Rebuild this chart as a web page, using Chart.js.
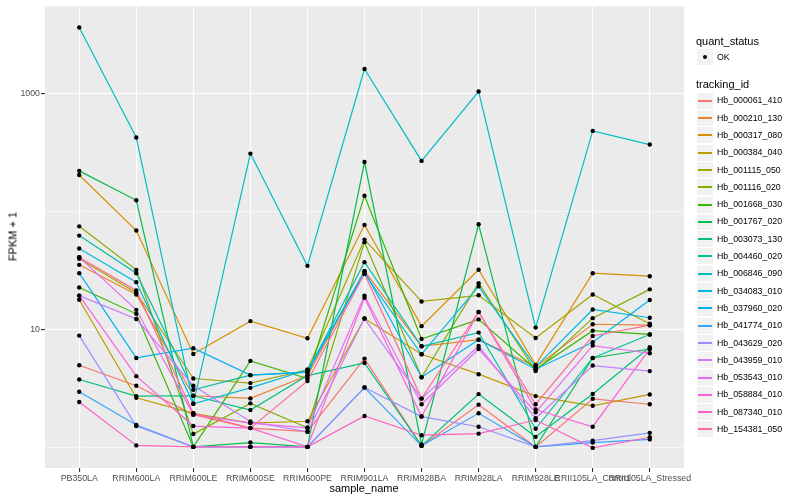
<!DOCTYPE html>
<html>
<head>
<meta charset="utf-8">
<script src="https://cdn.jsdelivr.net/npm/chart.js@4.4.0/dist/chart.umd.min.js"></script>
<style>
  body { margin: 0; background: #fff; font-family: "Liberation Sans", Arial, sans-serif; }
  #wrap { position: relative; width: 800px; height: 500px; }
  .txt { position: absolute; white-space: nowrap; color: #000; line-height: 1; }
  .key { position: absolute; width: 16px; height: 16px; background: #F2F2F2; }
  .key i { position: absolute; left: 1px; right: 1px; top: 7px; height: 1.5px; }
  .key b { position: absolute; left: 6px; top: 6px; width: 4px; height: 4px; border-radius: 2px; background: #000; }
</style>
</head>
<body>
<div id="wrap">
  <canvas id="chart" width="800" height="500"></canvas>
  <div class="txt" style="left:-37px;top:231px;width:100px;text-align:center;font-size:11px;transform:rotate(-90deg);transform-origin:50% 50%;">FPKM + 1</div>
  <div class="txt" style="left:364px;top:483px;font-size:11px;transform:translateX(-50%);">sample_name</div>
  <div id="legend"></div>
</div>
<script>
// samples on the x axis
const categories = ['PB350LA', 'RRIM600LA', 'RRIM600LE', 'RRIM600SE', 'RRIM600PE', 'RRIM901LA',
  'RRIM928BA', 'RRIM928LA', 'RRIM928LE', 'RRII105LA_Control', 'RRII105LA_Stressed'];

const trackingIds = ['Hb_000061_410', 'Hb_000210_130', 'Hb_000317_080', 'Hb_000384_040', 'Hb_001115_050',
  'Hb_001116_020', 'Hb_001668_030', 'Hb_001767_020', 'Hb_003073_130', 'Hb_004460_020', 'Hb_006846_090',
  'Hb_034083_010', 'Hb_037960_020', 'Hb_041774_010', 'Hb_043629_020', 'Hb_043959_010', 'Hb_053543_010',
  'Hb_058884_010', 'Hb_087340_010', 'Hb_154381_050'];

// FPKM + 1 per gene, one value per sample
const hb_000061_410 = [5.0, 3.35, 1.91, 1.47, 1.37, 5.69, 1.04, 2.32, 1.02, 2.6, 2.34];
const hb_000210_130 = [35.3, 19.8, 2.76, 2.62, 4.09, 31.2, 7.23, 8.23, 4.84, 11.1, 10.9];
const hb_000317_080 = [203, 68.8, 6.23, 11.8, 8.45, 76.8, 10.7, 32.1, 5.03, 30, 28.3];
const hb_000384_040 = [17.9, 2.65, 1.96, 1.62, 1.68, 12.4, 6.19, 4.2, 2.74, 2.27, 2.83];
const hb_001115_050 = [39.7, 20.5, 3.86, 3.53, 4.58, 57.7, 17.3, 19.5, 8.5, 19.8, 11.2];
const hb_001116_020 = [74.7, 32.0, 1.31, 2.38, 1.48, 54.9, 3.96, 24.7, 4.46, 12.5, 21.9];
const hb_001668_030 = [22.7, 13.6, 1.02, 5.44, 3.86, 135.6, 8.33, 12.2, 4.63, 9.8, 9.1];
const hb_001767_020 = [220, 124, 1.02, 1.11, 1.02, 262, 1.07, 77.7, 1.02, 5.76, 6.86];
const hb_003073_130 = [3.79, 2.74, 2.76, 2.09, 4.09, 5.23, 1.04, 2.85, 1.24, 2.86, 7.1];
const hb_004460_020 = [62.4, 30, 3.1, 4.12, 4.37, 37.2, 7.23, 9.44, 1.45, 5.76, 9.1];
const hb_006846_090 = [3590, 421, 2.36, 308, 34.6, 1597, 267, 1030, 10.4, 479, 367];
const hb_034083_010 = [48.5, 25.2, 2.36, 3.22, 4.58, 29.7, 6.19, 23.2, 4.84, 14.8, 12.6];
const hb_037960_020 = [30, 5.76, 6.96, 4.12, 4.37, 31.2, 3.96, 8.23, 4.63, 7.82, 17.8];
const hb_041774_010 = [2.98, 1.56, 1.02, 1.02, 1.02, 3.24, 1.04, 1.96, 1.02, 1.11, 1.18];
const hb_043629_020 = [8.9, 1.53, 1.02, 1.02, 1.02, 3.24, 1.84, 1.51, 1.02, 1.15, 1.34];
const hb_043959_010 = [19.4, 12.3, 3.35, 1.67, 1.37, 12.4, 2.61, 7.27, 1.78, 4.97, 4.46];
const hb_053543_010 = [41, 14.7, 1.91, 1.62, 1.48, 19.4, 2.34, 6.86, 2.0, 7.33, 6.31];
const hb_058884_010 = [19.4, 4.04, 1.53, 1.47, 1.02, 18.6, 1.84, 14.1, 2.11, 1.51, 6.86];
const hb_087340_010 = [2.44, 1.05, 1.02, 1.02, 1.02, 1.86, 1.28, 1.32, 1.72, 1.0, 1.23];
const hb_154381_050 = [41, 21.4, 1.96, 1.47, 3.68, 29.7, 2.61, 14.1, 2.34, 8.83, 10.9];

const seriesValues = [hb_000061_410, hb_000210_130, hb_000317_080, hb_000384_040, hb_001115_050,
  hb_001116_020, hb_001668_030, hb_001767_020, hb_003073_130, hb_004460_020, hb_006846_090,
  hb_034083_010, hb_037960_020, hb_041774_010, hb_043629_020, hb_043959_010, hb_053543_010,
  hb_058884_010, hb_087340_010, hb_154381_050];

// y grid lines and which of them get a label
const yGrid = [1, 10, 100, 1000];
const yLabels = [10, 1000];

// ggplot default hue palette, 20 colours
const palette = ['#F8766D', '#EA8331', '#D89000', '#C09B00', '#A3A500', '#7CAE00', '#39B600', '#00BB4E',
  '#00BF7D', '#00C1A3', '#00BFC4', '#00BAE0', '#00B0F6', '#35A2FF', '#9590FF', '#C77CFF', '#E76BF3',
  '#FA62DB', '#FF62BC', '#FF6C91'];

const fontFamily = '"Liberation Sans", Arial, sans-serif';

const datasets = trackingIds.map((id, i) => ({
  label: id,
  data: seriesValues[i].map((v, j) => ({ x: j, y: v })),
  borderColor: palette[i],
  borderWidth: 1.2,
  pointRadius: 0,
  fill: false,
  tension: 0,
  order: trackingIds.length - i
}));

// all points on top of all lines
datasets.push({
  label: 'OK',
  type: 'scatter',
  data: seriesValues.flatMap(vals => vals.map((v, j) => ({ x: j, y: v }))),
  pointRadius: 2.2,
  pointBackgroundColor: '#000',
  pointBorderWidth: 0,
  showLine: false,
  order: -1
});

const panelBg = {
  id: 'panelBg',
  beforeDraw(chart) {
    const { ctx, chartArea: a } = chart;
    ctx.save();
    ctx.fillStyle = '#EBEBEB';
    ctx.fillRect(a.left, a.top, a.right - a.left, a.bottom - a.top);
    ctx.restore();
  }
};

new Chart(document.getElementById('chart'), {
  type: 'line',
  data: { datasets: datasets },
  plugins: [panelBg],
  options: {
    responsive: false,
    animation: false,
    layout: { padding: { top: 5, right: 116, left: 0, bottom: 0 } },
    plugins: { legend: { display: false }, tooltip: { enabled: false } },
    scales: {
      x: {
        type: 'linear',
        min: -0.6,
        max: 10.6,
        afterBuildTicks: s => { s.ticks = categories.map((c, i) => ({ value: i })); },
        afterFit: s => { s.height = 32; },
        ticks: {
          callback: v => categories[v],
          autoSkip: false,
          maxRotation: 0,
          minRotation: 0,
          padding: 1,
          color: '#4D4D4D',
          font: { size: 8.8, family: fontFamily }
        },
        grid: { color: '#FFFFFF', lineWidth: 1.1, tickColor: '#333333', tickLength: 4 },
        border: { display: false }
      },
      y: {
        type: 'logarithmic',
        min: 0.676,
        max: 5420,
        afterBuildTicks: s => { s.ticks = yGrid.map(v => ({ value: v })); },
        afterFit: s => { s.width = 45; },
        ticks: {
          callback: v => yLabels.includes(v) ? String(v) : '',
          padding: 1,
          color: '#4D4D4D',
          font: { size: 8.8, family: fontFamily }
        },
        grid: {
          color: '#FFFFFF',
          lineWidth: c => yLabels.includes(c.tick.value) ? 1.1 : 0.55,
          tickColor: c => yLabels.includes(c.tick.value) ? '#333333' : 'rgba(0,0,0,0)',
          tickLength: 4
        },
        border: { display: false }
      }
    }
  }
});

// legend on the right, as in ggplot
const legend = document.getElementById('legend');
function addText(text, x, y, size) {
  const d = document.createElement('div');
  d.className = 'txt';
  d.style.left = x + 'px';
  d.style.top = Math.round(y - size / 2) + 'px';
  d.style.fontSize = size + 'px';
  d.textContent = text;
  legend.appendChild(d);
}
function addKey(x, y, color) {
  const k = document.createElement('div');
  k.className = 'key';
  k.style.left = x + 'px';
  k.style.top = Math.round(y - 8) + 'px';
  const m = document.createElement(color ? 'i' : 'b');
  if (color) m.style.background = color;
  k.appendChild(m);
  legend.appendChild(k);
}
addText('quant_status', 696, 41, 11);
addKey(697, 57, null);
addText('OK', 717, 57, 8.8);
addText('tracking_id', 696, 84, 11);
trackingIds.forEach((id, i) => {
  const y = 100.7 + i * 17.3;
  addKey(697, y, palette[i]);
  addText(id, 717, y, 8.8);
});
</script>
</body>
</html>
